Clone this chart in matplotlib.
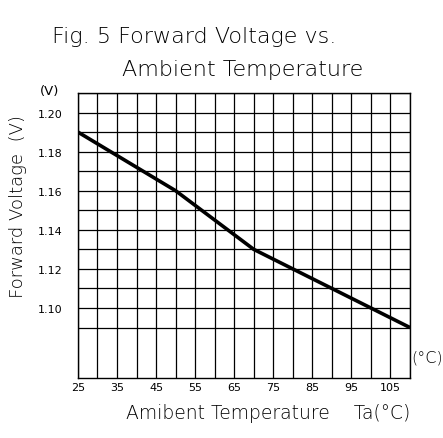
import matplotlib.pyplot as plt
import numpy as np

# forward voltage curve, read at its bend points
temp_c = [25, 50, 70, 110]
vf_volts = [1.19, 1.16, 1.13, 1.09]

x_ticks = [25, 35, 45, 55, 65, 75, 85, 95, 105]
y_ticks = [1.10, 1.12, 1.14, 1.16, 1.18, 1.20]
y_tick_labels = ['1.10', '1.12', '1.14', '1.16', '1.18', '1.20']

plt.rcParams['font.family'] = ['DejaVu Sans']
plt.rcParams['font.weight'] = 'light'
plt.rcParams['text.color'] = 'black'

fig = plt.figure(figsize=(4.43, 4.39), dpi=100)
axes = fig.add_axes([0.176, 0.1367, 0.7495, 0.6492])

# chart-paper grid: 5 degC columns, 0.01 V rows (rows stop at 1.09)
for gx in np.arange(25, 110.1, 5):
    axes.axvline(gx, color='black', lw=0.9, zorder=1)
for gy in np.arange(1.09, 1.2101, 0.01):
    axes.axhline(gy, color='black', lw=0.9, zorder=1)

axes.plot(temp_c, vf_volts, color='black', lw=2.6, solid_capstyle='butt', zorder=3)

axes.set_xlim(25, 110)
axes.set_ylim(1.0642, 1.21)
axes.set_xticks(x_ticks)
axes.set_xticklabels([str(t) for t in x_ticks], fontsize=8, fontweight='normal', color='black')
axes.set_yticks(y_ticks)
axes.set_yticklabels(y_tick_labels, fontsize=8, fontweight='normal', color='black')
axes.tick_params(axis='x', length=0, pad=3)
axes.tick_params(axis='y', length=0, pad=11)
for spine in axes.spines.values():
    spine.set_linewidth(1.0)

fig.text(0.118, 0.915, 'Fig. 5 Forward Voltage vs.', fontsize=16, ha='left', va='center')
fig.text(0.275, 0.840, 'Ambient Temperature', fontsize=16, ha='left', va='center')

fig.text(0.605, 0.059, 'Amibent Temperature    Ta(°C)', fontsize=13.5, ha='center', va='center')
fig.text(0.04, 0.53, 'Forward Voltage  (V)', fontsize=13, rotation=90, ha='center', va='center')

fig.text(0.113, 0.792, '(V)', fontsize=9.5, fontweight='normal', ha='center', va='center')
fig.text(0.963, 0.185, '(°C)', fontsize=11.5, ha='center', va='center')

fig.savefig('out.png', dpi=100)
